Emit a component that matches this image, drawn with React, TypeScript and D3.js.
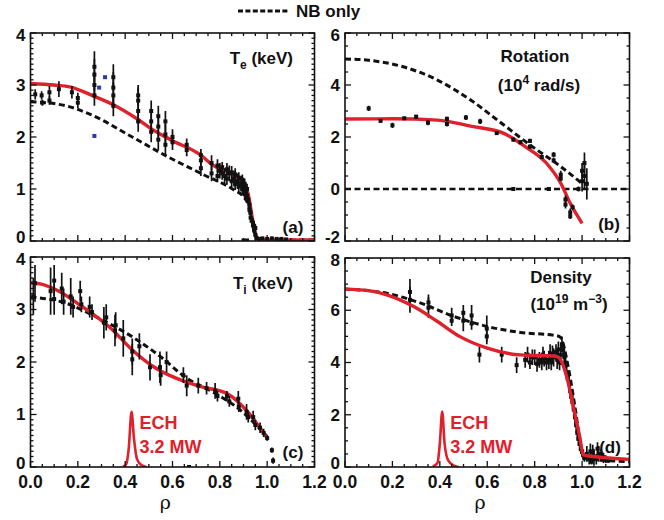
import React, { useEffect } from "react";
import * as d3 from "d3";

type Pt = [number, number, number];
type Cv = [number, number][];

// ---------- axis ticks ----------
const rhoTicks = [0, 0.2, 0.4, 0.6, 0.8, 1.0, 1.2];
const teTicks = [0, 1, 2, 3, 4];
const rotTicks = [-2, 0, 2, 4, 6];
const tiTicks = [0, 1, 2, 3, 4];
const neTicks = [0, 2, 4, 6, 8];

// ---------- (a) Te ----------
const teRed: Cv = [[0, 3.03], [0.1, 3.0], [0.17, 2.96], [0.26, 2.8], [0.35, 2.62], [0.45, 2.35], [0.52, 2.13], [0.6, 1.93], [0.72, 1.65], [0.77, 1.46], [0.86, 1.27], [0.9, 1.12], [0.92, 0.9], [0.935, 0.5], [0.95, 0.15], [0.965, 0.03], [1.0, 0.02], [1.2, 0.02]];
const teDash: Cv = [[0, 2.68], [0.15, 2.6], [0.26, 2.42], [0.43, 2.0], [0.58, 1.62], [0.72, 1.3], [0.86, 0.98], [0.9, 0.85], [0.92, 0.7], [0.935, 0.4], [0.95, 0.1], [0.965, 0.02], [1.2, 0.02]];
const teData: Pt[] = [
  [0.02, 2.82, 0.1], [0.047, 2.8, 0.08], [0.05, 2.66, 0.06], [0.08, 2.86, 0.12], [0.08, 2.7, 0.08], [0.12, 2.92, 0.15], [0.175, 2.86, 0.12], [0.2, 2.66, 0.1], [0.2, 2.75, 0.1],
  [0.27, 2.8, 0.2], [0.27, 3.0, 0.25], [0.27, 3.2, 0.3], [0.27, 3.35, 0.3],
  [0.35, 2.6, 0.2], [0.35, 2.8, 0.25], [0.35, 2.95, 0.3], [0.35, 3.15, 0.25],
  [0.455, 2.3, 0.2], [0.455, 2.5, 0.2], [0.455, 2.7, 0.25], [0.455, 2.8, 0.2],
  [0.51, 2.1, 0.2], [0.51, 2.3, 0.2], [0.51, 2.5, 0.2],
  [0.54, 1.95, 0.2], [0.54, 2.2, 0.2], [0.54, 2.4, 0.2],
  [0.57, 1.85, 0.2], [0.57, 2.05, 0.2], [0.57, 2.3, 0.2],
  [0.6, 1.9, 0.15], [0.6, 2.0, 0.15],
  [0.66, 1.75, 0.12], [0.66, 1.85, 0.12],
  [0.72, 1.4, 0.15], [0.72, 1.55, 0.15], [0.72, 1.65, 0.12],
  [0.765, 1.3, 0.15], [0.765, 1.5, 0.15],
  [0.79, 1.25, 0.12], [0.79, 1.45, 0.12], [0.8, 1.35, 0.15], [0.81, 1.3, 0.12], [0.81, 1.42, 0.1], [0.82, 1.25, 0.15], [0.83, 1.2, 0.12], [0.83, 1.38, 0.12],
  [0.84, 1.3, 0.15], [0.85, 1.15, 0.12], [0.85, 1.32, 0.12], [0.86, 1.2, 0.15], [0.865, 1.1, 0.12], [0.865, 1.28, 0.12], [0.875, 1.15, 0.15],
  [0.88, 1.05, 0.1], [0.88, 1.22, 0.1], [0.89, 1.1, 0.15], [0.895, 1.0, 0.12], [0.895, 1.18, 0.1], [0.9, 1.0, 0.12], [0.905, 0.9, 0.1], [0.905, 1.1, 0.1],
  [0.91, 0.95, 0.12], [0.915, 0.85, 0.1], [0.915, 1.0, 0.1], [0.92, 0.8, 0.12], [0.925, 0.7, 0.1], [0.925, 0.6, 0.1], [0.93, 0.55, 0.1], [0.93, 0.45, 0.1],
  [0.935, 0.4, 0.08], [0.94, 0.3, 0.08], [0.94, 0.35, 0.08], [0.945, 0.2, 0.06], [0.95, 0.12, 0.05], [0.95, 0.25, 0.08],
  [0.955, 0.06, 0.04], [0.965, 0.04, 0.03], [0.98, 0.05, 0.03], [1.0, 0.04, 0.03], [1.02, 0.05, 0.03], [1.04, 0.04, 0.03], [1.06, 0.04, 0.03], [1.08, 0.03, 0.02],
  [0.9, 0.01, 0.01], [0.915, 0.01, 0.01],
];
const teBlue: [number, number][] = [[0.27, 2.02], [0.29, 2.95], [0.315, 3.15]];

// ---------- (b) Rotation ----------
const rotRed: Cv = [[0, 2.69], [0.2, 2.7], [0.39, 2.65], [0.53, 2.42], [0.67, 2.14], [0.76, 1.63], [0.85, 0.99], [0.91, 0.22], [0.95, -0.55], [1.0, -1.32]];
const rotDash: Cv = [[0, 5.0], [0.1, 4.95], [0.245, 4.7], [0.39, 4.19], [0.53, 3.42], [0.67, 2.46], [0.79, 1.63], [0.91, 0.86], [0.99, 0.28], [1.0, 0.2]];
const rotData: Pt[] = [
  [0.1, 3.1, 0.1], [0.15, 2.62, 0.06], [0.2, 2.45, 0.1], [0.25, 2.72, 0.06], [0.3, 2.78, 0.08], [0.35, 2.55, 0.1], [0.43, 2.7, 0.08], [0.43, 2.5, 0.1],
  [0.51, 2.75, 0.1], [0.57, 2.6, 0.1], [0.64, 2.15, 0.06], [0.71, 1.9, 0.08], [0.74, 1.8, 0.08], [0.78, 1.85, 0.08], [0.78, 1.63, 0.08], [0.83, 1.23, 0.08],
  [0.88, 1.32, 0.1], [0.88, 1.1, 0.1], [0.91, 0.55, 0.15], [0.91, 0.4, 0.1], [0.93, -0.4, 0.15], [0.93, -0.6, 0.15], [0.95, -0.9, 0.15], [0.95, -1.05, 0.1],
  [0.96, -0.7, 0.1], [0.985, 0.0, 0.1], [1.0, 0.3, 0.4], [1.0, 0.7, 0.3], [1.01, 0.5, 0.5], [1.01, 1.0, 0.4], [1.02, 0.2, 0.6], [0.71, 0.0, 0.03], [0.86, 0.0, 0.03],
];

// ---------- (c) Ti ----------
const tiRed: Cv = [[0, 3.51], [0.05, 3.48], [0.11, 3.37], [0.22, 3.05], [0.34, 2.64], [0.43, 2.23], [0.53, 1.88], [0.65, 1.63], [0.72, 1.53], [0.83, 1.4], [0.91, 1.09], [1.0, 0.55]];
const tiDash: Cv = [[0, 3.24], [0.15, 3.12], [0.29, 2.83], [0.43, 2.48], [0.55, 2.1], [0.66, 1.69], [0.77, 1.43], [0.885, 1.09], [1.0, 0.58]];
const tiData: Pt[] = [
  [0.012, 3.25, 0.35], [0.019, 3.5, 0.35], [0.085, 3.35, 0.45], [0.1, 3.55, 0.3], [0.1, 3.2, 0.3], [0.132, 3.4, 0.3], [0.14, 3.15, 0.25], [0.17, 3.25, 0.35],
  [0.18, 3.05, 0.2], [0.21, 3.35, 0.2], [0.215, 3.1, 0.15], [0.25, 3.05, 0.2], [0.26, 2.95, 0.15], [0.31, 2.75, 0.3], [0.32, 2.85, 0.25], [0.357, 2.6, 0.3],
  [0.36, 2.7, 0.25], [0.392, 2.45, 0.35], [0.43, 2.05, 0.3], [0.43, 2.2, 0.25], [0.46, 2.3, 0.25], [0.505, 1.9, 0.25], [0.547, 1.9, 0.3], [0.55, 1.75, 0.2],
  [0.575, 2.0, 0.2], [0.646, 1.75, 0.15], [0.66, 1.55, 0.2], [0.709, 1.55, 0.15], [0.744, 1.5, 0.12], [0.78, 1.45, 0.15], [0.79, 1.35, 0.1], [0.83, 1.35, 0.1],
  [0.84, 1.25, 0.1], [0.878, 1.3, 0.15], [0.88, 1.15, 0.1], [0.913, 1.05, 0.15], [0.92, 0.95, 0.1], [0.941, 0.95, 0.12], [0.95, 0.8, 0.1], [0.97, 0.75, 0.1],
  [0.985, 0.65, 0.08], [1.0, 0.55, 0.05], [1.02, 0.32, 0.05], [1.025, 0.12, 0.06], [0.67, 0.0, 0.02],
];
const tiEch: Cv = [[0.39, 0], [0.405, 0.06], [0.415, 0.35], [0.427, 1.05], [0.437, 0.55], [0.45, 0.15], [0.47, 0.03], [0.49, 0]];

// ---------- (d) Density ----------
const neRed: Cv = [[0, 6.81], [0.1, 6.75], [0.176, 6.59], [0.29, 6.14], [0.39, 5.57], [0.485, 4.99], [0.6, 4.55], [0.74, 4.29], [0.88, 4.25], [0.9, 4.2], [0.935, 3.46], [0.963, 2.31], [0.99, 1.16], [1.005, 0.46], [1.05, 0.4], [1.2, 0.29]];
const neDash: Cv = [[0, 6.81], [0.176, 6.65], [0.32, 6.27], [0.46, 5.76], [0.6, 5.38], [0.74, 5.15], [0.89, 5.03], [0.91, 4.95], [0.94, 3.9], [0.97, 2.3], [0.995, 0.8], [1.01, 0.35], [1.2, 0.2]];
const neData: Pt[] = [
  [0.274, 6.4, 0.5], [0.274, 6.7, 0.5], [0.352, 6.1, 0.4], [0.352, 6.3, 0.3], [0.45, 5.8, 0.3], [0.45, 5.6, 0.2], [0.499, 5.6, 0.4], [0.499, 5.9, 0.3],
  [0.534, 5.8, 0.4], [0.534, 5.5, 0.25], [0.567, 4.3, 0.3], [0.598, 5.3, 0.5], [0.598, 5.0, 0.3], [0.661, 4.3, 0.3], [0.724, 3.9, 0.3],
  [0.76, 4.1, 0.3], [0.77, 4.3, 0.3], [0.78, 4.0, 0.25], [0.79, 4.2, 0.3], [0.8, 4.2, 0.3], [0.81, 3.95, 0.3], [0.82, 4.1, 0.3], [0.83, 4.0, 0.3],
  [0.835, 4.3, 0.3], [0.84, 4.15, 0.3], [0.85, 4.0, 0.3], [0.86, 4.1, 0.35], [0.865, 4.35, 0.35], [0.87, 4.0, 0.3], [0.875, 4.3, 0.35], [0.88, 4.2, 0.35],
  [0.89, 4.4, 0.3], [0.895, 4.1, 0.35], [0.9, 4.5, 0.3], [0.905, 4.0, 0.3], [0.91, 4.3, 0.4], [0.915, 4.7, 0.3], [0.92, 4.5, 0.3],
  [0.925, 4.2, 0.3], [0.93, 4.0, 0.3], [0.935, 3.6, 0.3], [0.94, 3.4, 0.3], [0.945, 3.2, 0.3], [0.95, 2.9, 0.3], [0.955, 2.7, 0.3], [0.96, 2.5, 0.3],
  [0.965, 2.2, 0.3], [0.97, 1.9, 0.3], [0.975, 1.6, 0.3], [0.98, 1.3, 0.3], [0.985, 1.1, 0.3], [0.99, 0.9, 0.3], [0.995, 0.7, 0.2], [1.0, 0.6, 0.2],
  [1.005, 0.45, 0.2], [1.01, 0.35, 0.15],
  [1.02, 0.5, 0.3], [1.03, 0.3, 0.2], [1.035, 0.6, 0.3], [1.045, 0.55, 0.3], [1.05, 0.4, 0.3], [1.06, 0.3, 0.2], [1.065, 0.7, 0.25], [1.07, 0.5, 0.3],
  [1.08, 0.45, 0.25], [1.09, 0.35, 0.2], [1.1, 0.3, 0.15], [1.11, 0.25, 0.1], [1.04, 0.2, 0.1],
];
const neEch: Cv = [[0.37, 0.02], [0.39, 0.15], [0.4, 0.9], [0.41, 2.12], [0.42, 0.9], [0.435, 0.25], [0.46, 0.05], [0.48, 0]];

const RED = "#e0202a";
const FONT = "'Liberation Sans', Arial, Helvetica, sans-serif";

type PanelProps = {
  id: string;
  x0: number; x1: number; y0: number; y1: number;
  yDom: [number, number];
  yTicks: number[];
  yMinor: number;
  showX: boolean;
  red: Cv; dash: Cv; pts: Pt[];
  blue?: [number, number][];
  ech?: Cv;
  redOnTop?: boolean;
  zeroLine?: boolean;
};

function Panel(p: PanelProps) {
  const x = d3.scaleLinear().domain([0, 1.2]).range([p.x0, p.x1]);
  const y = d3.scaleLinear().domain(p.yDom).range([p.y1, p.y0]);
  const line = d3.line<[number, number]>().x(d => x(d[0])).y(d => y(d[1])).curve(d3.curveMonotoneX);
  const xMinor = d3.range(0, 1.2001, 0.05);
  const yMinor = d3.range(p.yDom[0], p.yDom[1] + 1e-6, p.yMinor);
  const isMajorX = (v: number) => rhoTicks.some(t => Math.abs(t - v) < 1e-6);
  const isMajorY = (v: number) => p.yTicks.some(t => Math.abs(t - v) < 1e-6);

  const points = (
    <g>
      {p.pts.map((d, i) => (
        <g key={i}>
          <line x1={x(d[0])} x2={x(d[0])} y1={y(d[1] - d[2])} y2={y(d[1] + d[2])} stroke="#111" strokeWidth={1.7} />
          <rect x={x(d[0]) - 2} y={y(d[1]) - 2} width={4} height={4} fill="#111" />
        </g>
      ))}
      {(p.blue || []).map((d, i) => (
        <rect key={"b" + i} x={x(d[0]) - 2} y={y(d[1]) - 2} width={4} height={4} fill="#2a3aa8" />
      ))}
    </g>
  );
  const redPath = <path d={line(p.red) || ""} fill="none" stroke={RED} strokeWidth={3.4} />;
  const dashPath = <path d={line(p.dash) || ""} fill="none" stroke="#111" strokeWidth={3} strokeDasharray="6 3.5" />;

  const yLabelDy = (v: number) => {
    if (v === p.yDom[0]) return "0.12em";
    if (v === p.yDom[1]) return "0.45em";
    return "0.35em";
  };

  return (
    <g>
      <defs>
        <clipPath id={"clip" + p.id}>
          <rect x={p.x0} y={p.y0} width={p.x1 - p.x0} height={p.y1 - p.y0} />
        </clipPath>
      </defs>
      <g clipPath={`url(#clip${p.id})`}>
        {p.zeroLine && (
          <line x1={p.x0} x2={p.x1} y1={y(0)} y2={y(0)} stroke="#111" strokeWidth={2.6} strokeDasharray="6 3.5" />
        )}
        {p.ech && <path d={line(p.ech) || ""} fill="none" stroke={RED} strokeWidth={2.6} />}
        {p.redOnTop ? (<>{points}{dashPath}{redPath}</>) : (<>{dashPath}{redPath}{points}</>)}
      </g>
      <rect x={p.x0} y={p.y0} width={p.x1 - p.x0} height={p.y1 - p.y0} fill="none" stroke="#111" strokeWidth={1.6} />
      {xMinor.map((v, i) => {
        const L = isMajorX(v) ? 6 : 3;
        return (
          <g key={"xt" + i}>
            <line x1={x(v)} x2={x(v)} y1={p.y1} y2={p.y1 - L} stroke="#111" strokeWidth={1.3} />
            <line x1={x(v)} x2={x(v)} y1={p.y0} y2={p.y0 + L} stroke="#111" strokeWidth={1.3} />
          </g>
        );
      })}
      {yMinor.map((v, i) => {
        const L = isMajorY(v) ? 6 : 3;
        return (
          <g key={"yt" + i}>
            <line x1={p.x0} x2={p.x0 + L} y1={y(v)} y2={y(v)} stroke="#111" strokeWidth={1.3} />
            <line x1={p.x1} x2={p.x1 - L} y1={y(v)} y2={y(v)} stroke="#111" strokeWidth={1.3} />
          </g>
        );
      })}
      {p.yTicks.map((v, i) => (
        <text key={"yl" + i} x={p.x0 - 5} y={y(v)} dy={yLabelDy(v)} textAnchor="end" fontFamily={FONT} fontWeight="bold" fontSize={17} fill="#111">
          {v < 0 ? "-" + Math.abs(v) : String(v)}
        </text>
      ))}
      {p.showX && rhoTicks.map((v, i) => (
        <text key={"xl" + i} x={x(v)} y={p.y1 + 21} textAnchor="middle" fontFamily={FONT} fontWeight="bold" fontSize={17.5} fill="#111">
          {v.toFixed(1)}
        </text>
      ))}
      {p.showX && (
        <text x={x(0.57)} y={p.y1 + 42} textAnchor="middle" fontFamily="'DejaVu Serif', serif" fontSize={19} fill="#111">ρ</text>
      )}
      {p.ech && (() => {
        const peak = p.ech.reduce((a, b) => (b[1] > a[1] ? b : a));
        const tx = x(peak[0]) + 8;
        return (
          <g fontFamily={FONT} fontWeight="bold" fontSize={18} fill={RED}>
            <text x={tx} y={p.y1 - 38}>ECH</text>
            <text x={tx} y={p.y1 - 14}>3.2 MW</text>
          </g>
        );
      })()}
    </g>
  );
}

export default function App() {
  useEffect(() => {
    document.body.style.margin = "0";
  }, []);
  const t = { fontFamily: FONT, fontWeight: "bold" as const, fontSize: 17, fill: "#111" };
  return (
    <svg width={664} height={520} style={{ position: "absolute", left: 0, top: 0, background: "#fff" }}>
      {/* legend */}
      <line x1={238} x2={289} y1={11} y2={11} stroke="#111" strokeWidth={3} strokeDasharray="5 2.4" />
      <text x={296} y={17} {...t}>NB only</text>

      <Panel id="a" x0={30.5} x1={314.5} y0={33} y1={241} yDom={[0, 4]} yTicks={teTicks} yMinor={0.1} showX={false}
        red={teRed} dash={teDash} pts={teData} blue={teBlue} />
      <text x={293} y={64} textAnchor="end" {...t}>T<tspan fontSize={12} dy={5}>e</tspan><tspan dy={-5}> (keV)</tspan></text>
      <text x={293} y={233} textAnchor="middle" {...t}>(a)</text>

      <Panel id="b" x0={345} x1={629.5} y0={33} y1={241} yDom={[-2, 6]} yTicks={rotTicks} yMinor={0.5} showX={false}
        red={rotRed} dash={rotDash} pts={rotData} zeroLine />
      <text x={535} y={62} textAnchor="middle" {...t}>Rotation</text>
      <text x={539} y={91} textAnchor="middle" {...t}>(10<tspan fontSize={12} dy={-7}>4</tspan><tspan dy={7}> rad/s)</tspan></text>
      <text x={609} y={230} textAnchor="middle" {...t}>(b)</text>

      <Panel id="c" x0={30.5} x1={314.5} y0={257} y1={467} yDom={[0, 4]} yTicks={tiTicks} yMinor={0.1} showX={true}
        red={tiRed} dash={tiDash} pts={tiData} ech={tiEch} />
      <text x={293} y={289} textAnchor="end" {...t}>T<tspan fontSize={12} dy={5}>i</tspan><tspan dy={-5}> (keV)</tspan></text>
      <text x={293} y={458} textAnchor="middle" {...t}>(c)</text>

      <Panel id="d" x0={345} x1={629.5} y0={258} y1={467} yDom={[0, 8]} yTicks={neTicks} yMinor={0.5} showX={true}
        red={neRed} dash={neDash} pts={neData} ech={neEch} redOnTop />
      <text x={561} y={283} textAnchor="middle" {...t}>Density</text>
      <text x={569} y={310} textAnchor="middle" {...t}>(10<tspan fontSize={12} dy={-7}>19</tspan><tspan dy={7}> m</tspan><tspan fontSize={12} dy={-7}>−3</tspan><tspan dy={7}>)</tspan></text>
      <text x={610} y={453} textAnchor="middle" {...t}>(d)</text>
    </svg>
  );
}
